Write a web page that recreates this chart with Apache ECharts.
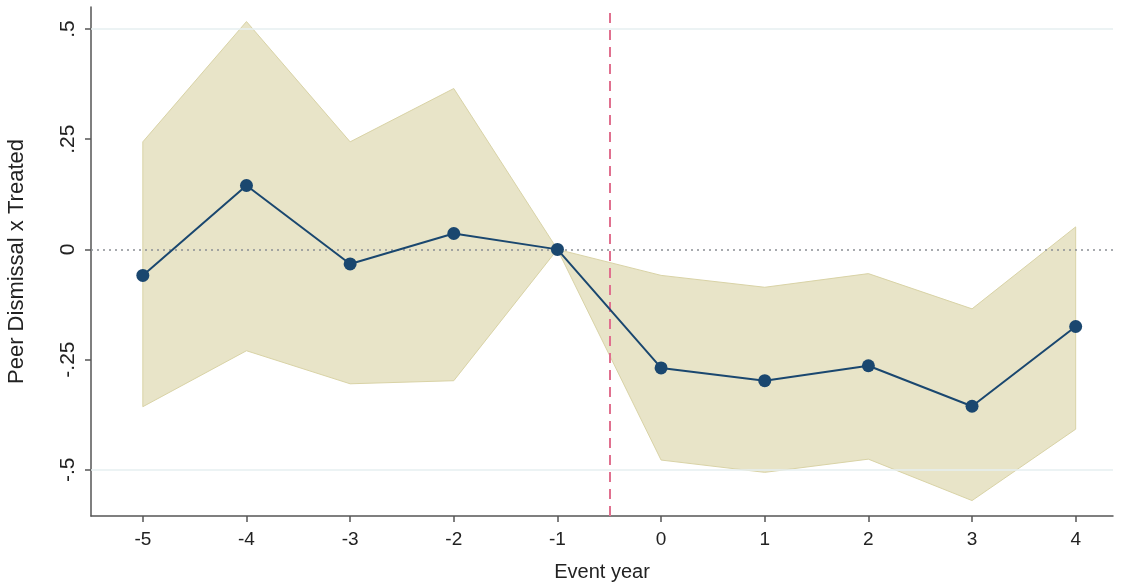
<!DOCTYPE html>
<html>
<head>
<meta charset="utf-8">
<script src="https://cdn.jsdelivr.net/npm/echarts@6/dist/echarts.min.js"></script>
<style>html,body{margin:0;padding:0;background:#fff}#c{width:1125px;height:588px}</style>
</head>
<body>
<div id="c"></div>
<script>
const years = [-5, -4, -3, -2, -1, 0, 1, 2, 3, 4];
const estimate = [-0.059, 0.145, -0.033, 0.036, 0, -0.269, -0.298, -0.264, -0.356, -0.175];
const ciUpper = [0.244, 0.517, 0.244, 0.365, 0, -0.059, -0.086, -0.055, -0.135, 0.051];
const ciLower = [-0.357, -0.230, -0.305, -0.298, 0, -0.478, -0.506, -0.476, -0.570, -0.408];
const xTicks = [-5, -4, -3, -2, -1, 0, 1, 2, 3, 4];
const yTicks = [-0.5, -0.25, 0, 0.25, 0.5];
const yTickLabels = ['-.5', '-.25', '0', '.25', '.5'];

const font = 'Liberation Sans, Arial, sans-serif';
const chart = echarts.init(document.getElementById('c'));
chart.setOption({
  animation: false,
  backgroundColor: '#ffffff',
  grid: { left: 91, right: 12, top: 7, bottom: 72, outerBoundsMode: 'none' },
  xAxis: {
    type: 'value', min: -5.5, max: 4.36,
    name: 'Event year', nameLocation: 'middle', nameGap: 46,
    nameTextStyle: { fontFamily: font, fontSize: 20, color: '#222' },
    axisLine: { show: true, onZero: false, lineStyle: { color: '#555', width: 1.5 } },
    axisTick: { show: true, length: 6, customValues: xTicks, lineStyle: { color: '#555', width: 1.5 } },
    axisLabel: { customValues: xTicks, fontFamily: font, fontSize: 19, color: '#222', margin: 14 },
    splitLine: { show: false }
  },
  yAxis: {
    type: 'value', min: -0.605, max: 0.55,
    name: 'Peer Dismissal x Treated', nameLocation: 'middle', nameGap: 63,
    nameTextStyle: { fontFamily: font, fontSize: 22, color: '#222' },
    axisLine: { show: true, onZero: false, lineStyle: { color: '#555', width: 1.5 } },
    axisTick: { show: true, length: 6, customValues: yTicks, lineStyle: { color: '#555', width: 1.5 } },
    axisLabel: {
      customValues: yTicks, rotate: 90, fontFamily: font, fontSize: 21, color: '#222', margin: 12,
      formatter: v => { const i = yTicks.findIndex(t => Math.abs(t - v) < 1e-9); return i >= 0 ? yTickLabels[i] : ''; }
    },
    splitLine: { show: false }
  },
  series: [
    {
      type: 'custom', name: 'ci',
      data: years.map((x, i) => [x, ciLower[i], ciUpper[i]]),
      encode: { x: 0, y: [1, 2] },
      z: 2, silent: true,
      renderItem: (params, api) => {
        if (params.dataIndex !== 0) return null;
        const upper = years.map((x, i) => api.coord([x, ciUpper[i]]));
        const lower = years.map((x, i) => api.coord([x, ciLower[i]])).reverse();
        return {
          type: 'polygon',
          shape: { points: upper.concat(lower) },
          style: { fill: '#e8e4c8', stroke: '#d9d3a6', lineWidth: 1 }
        };
      },
      markLine: {
        silent: true, symbol: 'none', label: { show: false },
        lineStyle: { color: '#e6eff1', width: 1.5, type: 'solid' },
        data: [{ yAxis: 0.5 }, { yAxis: -0.5 }]
      }
    },
    {
      type: 'line', name: 'estimate',
      data: years.map((x, i) => [x, estimate[i]]),
      symbol: 'circle', symbolSize: 13,
      itemStyle: { color: '#1a476f' },
      lineStyle: { color: '#1a476f', width: 2 }, z: 10,
      markLine: {
        silent: true, symbol: 'none', label: { show: false }, z: 5,
        data: [
          { yAxis: 0, lineStyle: { color: '#8a8f94', width: 1.5, type: [2, 4] } },
          { xAxis: -0.5, lineStyle: { color: '#e0708f', width: 2, type: [10, 7] } }
        ]
      }
    }
  ]
});
</script>
</body>
</html>
